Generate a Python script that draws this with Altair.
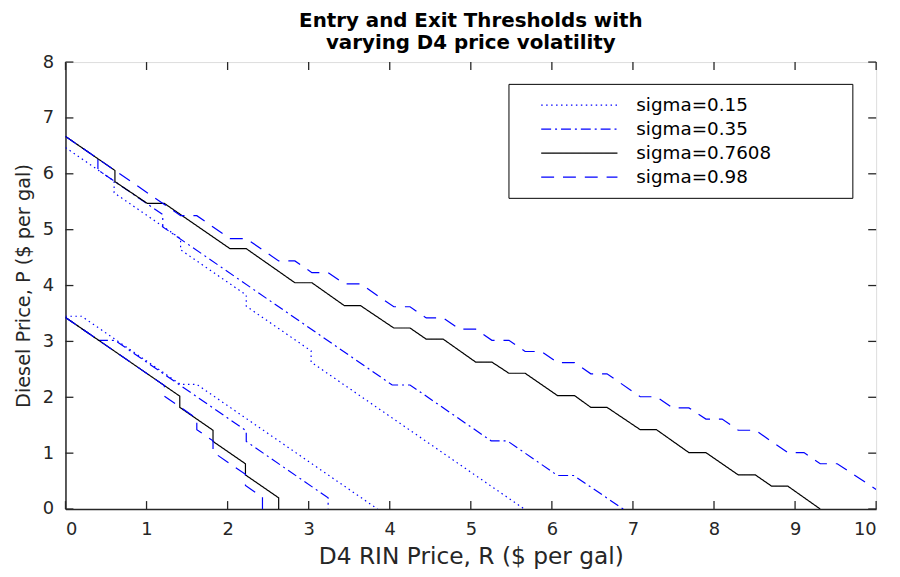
import altair as alt
import pandas as pd

# ---- data (R = D4 RIN price, P = diesel price) ----
names = ["sigma=0.15", "sigma=0.35", "sigma=0.7608", "sigma=0.98"]
colors = ["#0000FF", "#0000FF", "#000000", "#0000FF"]
dashes = [[1.5, 3.5], [10, 4, 2, 4], [1, 0], [13, 9]]

# sigma = 0.15 (dotted)
s015_entry_R = [0, 0.40, 0.60, 0.60, 1.20, 1.42, 1.42, 2.23, 2.23, 3.03, 3.03, 5.66]
s015_entry_P = [6.47, 6.07, 5.87, 5.66, 5.06, 4.84, 4.64, 3.83, 3.63, 2.83, 2.63, 0.0]
s015_exit_R = [0, 0.20, 1.42, 1.62, 3.85]
s015_exit_P = [3.45, 3.45, 2.23, 2.23, 0.0]

# sigma = 0.35 (dash-dot)
s035_entry_R = [0, 0.40, 0.40, 1.20, 1.20, 4.03, 4.25, 5.25, 5.45, 6.07, 6.27, 6.88]
s035_entry_P = [6.67, 6.27, 6.07, 5.27, 5.05, 2.22, 2.22, 1.22, 1.22, 0.60, 0.60, 0.0]
s035_exit_R = [0, 0.41, 0.61, 2.23, 2.23, 3.24, 3.24]
s035_exit_P = [3.43, 3.02, 3.02, 1.40, 1.21, 0.20, 0.0]

# sigma = 0.7608 (solid black)
s076_entry_R = [0, 0.61, 0.61, 1.01, 1.22, 2.03, 2.23, 2.83, 3.04, 3.44, 3.64, 4.05, 4.25,
                4.45, 4.66, 5.06, 5.26, 5.47, 5.67, 6.07, 6.28, 6.48, 6.68, 7.09, 7.29,
                7.69, 7.90, 8.30, 8.51, 8.71, 8.91, 9.31]
s076_entry_P = [6.67, 6.06, 5.86, 5.47, 5.47, 4.66, 4.66, 4.05, 4.05, 3.64, 3.64, 3.24, 3.24,
                3.04, 3.04, 2.63, 2.63, 2.43, 2.43, 2.03, 2.03, 1.82, 1.82, 1.42, 1.42,
                1.01, 1.01, 0.61, 0.61, 0.41, 0.41, 0.0]
s076_exit_R = [0, 1.41, 1.41, 1.82, 1.82, 2.22, 2.22, 2.63, 2.63]
s076_exit_P = [3.43, 2.02, 1.82, 1.41, 1.21, 0.81, 0.61, 0.20, 0.0]

# sigma = 0.98 (dashed)
s098_entry_R = [0, 1.42, 1.62, 2.03, 2.23, 2.63, 2.83, 3.04, 3.24, 3.44, 3.64, 4.05, 4.25,
                4.45, 4.66, 4.86, 5.06, 5.26, 5.47, 5.67, 5.87, 6.07, 6.28, 6.48, 6.68,
                7.09, 7.29, 7.49, 7.69, 7.90, 8.10, 8.30, 8.51, 8.91, 9.11, 9.31, 9.52, 10.0]
s098_entry_P = [6.67, 5.25, 5.25, 4.84, 4.84, 4.44, 4.44, 4.23, 4.23, 4.03, 4.03, 3.62, 3.62,
                3.42, 3.42, 3.22, 3.22, 3.02, 3.02, 2.82, 2.82, 2.62, 2.62, 2.42, 2.42,
                2.01, 2.01, 1.81, 1.81, 1.61, 1.61, 1.41, 1.41, 1.01, 1.01, 0.81, 0.81, 0.35]
s098_exit_R = [0, 1.22, 1.22, 1.62, 1.62, 1.82, 1.82, 2.22, 2.22, 2.43, 2.43]
s098_exit_P = [3.43, 2.21, 2.02, 1.62, 1.42, 1.22, 1.02, 0.62, 0.42, 0.21, 0.0]

x_ticks = list(range(0, 11))
y_ticks = list(range(0, 9))

series = [
    (names[0], "entry", s015_entry_R, s015_entry_P),
    (names[0], "exit", s015_exit_R, s015_exit_P),
    (names[1], "entry", s035_entry_R, s035_entry_P),
    (names[1], "exit", s035_exit_R, s035_exit_P),
    (names[2], "entry", s076_entry_R, s076_entry_P),
    (names[2], "exit", s076_exit_R, s076_exit_P),
    (names[3], "entry", s098_entry_R, s098_entry_P),
    (names[3], "exit", s098_exit_R, s098_exit_P),
]
rows = []
for name, branch, rs, ps in series:
    for i, (r, p) in enumerate(zip(rs, ps)):
        rows.append({"series": name, "branch": branch, "idx": i, "R": r, "P": p})
df = pd.DataFrame(rows)

W, H = 818, 451
FONT = "DejaVu Sans"
AX = "#262626"
# trailing blank room inside the legend box (a zero-width char keeps it from being trimmed)
LABEL_PAD = "\u00a0" * 12 + "\u200b"

legend = alt.Legend(
    title=None, orient="none", legendX=447, legendY=22,
    symbolType="M-4,0H4", symbolSize=370, symbolStrokeWidth=1.2,
    symbolOffset=50, labelOffset=47, padding=11, rowPadding=4.2,
    strokeColor="#000000", fillColor="#FFFFFF",
    labelFont=FONT, labelFontSize=18.5, labelColor="#000000", labelLimit=400,
    labelExpr="datum.label + '" + LABEL_PAD + "'",
)

xaxis = alt.Axis(values=x_ticks, format="d", ticks=False, tickSize=0, grid=False,
                 labelFont=FONT, labelFontSize=18, labelColor=AX, labelPadding=12,
                 title="D4 RIN Price, R ($ per gal)", titleFont=FONT, titleFontSize=23.5,
                 titleFontWeight="normal", titleColor=AX, titlePadding=6,
                 domainColor=AX, domainWidth=1.5)
yaxis = alt.Axis(values=y_ticks, format="d", ticks=False, tickSize=0, grid=False,
                 labelFont=FONT, labelFontSize=18, labelColor=AX, labelPadding=12,
                 title="Diesel Price, P ($ per gal)", titleFont=FONT, titleFontSize=19.5,
                 titleFontWeight="normal", titleColor=AX, titlePadding=9,
                 domainColor=AX, domainWidth=1.5)

base = alt.Chart(df).mark_line(strokeWidth=1.2, clip=True).encode(
    x=alt.X("R:Q", scale=alt.Scale(domain=[0, 10], nice=False), axis=xaxis),
    y=alt.Y("P:Q", scale=alt.Scale(domain=[0, 8], nice=False), axis=yaxis),
    color=alt.Color("series:N", scale=alt.Scale(domain=names, range=colors), legend=legend),
    strokeDash=alt.StrokeDash("series:N", scale=alt.Scale(domain=names, range=dashes), legend=legend),
    detail="branch:N",
    order="idx:Q",
)
line_layers = [base.transform_filter(alt.datum.series == n) for n in names]

xt = pd.DataFrame({"R": x_ticks})
yt = pd.DataFrame({"P": y_ticks})
TL = 8
tick_bottom = alt.Chart(xt).mark_rule(color=AX, strokeWidth=1.3).encode(
    x="R:Q", y=alt.value(H), y2=alt.value(H - TL))
tick_top = alt.Chart(xt).mark_rule(color=AX, strokeWidth=1.3).encode(
    x="R:Q", y=alt.value(0), y2=alt.value(TL))
tick_left = alt.Chart(yt).mark_rule(color=AX, strokeWidth=1.3).encode(
    y="P:Q", x=alt.value(0), x2=alt.value(TL))
tick_right = alt.Chart(yt).mark_rule(color=AX, strokeWidth=1.3).encode(
    y="P:Q", x=alt.value(W), x2=alt.value(W - TL))

chart = alt.layer(*line_layers, tick_bottom, tick_top, tick_left, tick_right).properties(
    width=W, height=H,
    title=alt.TitleParams(["Entry and Exit Thresholds with", "varying D4 price volatility"],
                          font=FONT, fontSize=20, fontWeight="bold", color="#000000",
                          anchor="middle", offset=0, lineHeight=22.5),
    padding={"left": 58, "top": 52, "right": 16, "bottom": 62},
    autosize=alt.AutoSizeParams(type="none"),
).configure_view(stroke=AX, strokeWidth=1.5).configure(background="#FFFFFF")

chart.save("out.html", embed_options={"renderer": "svg", "actions": False})
